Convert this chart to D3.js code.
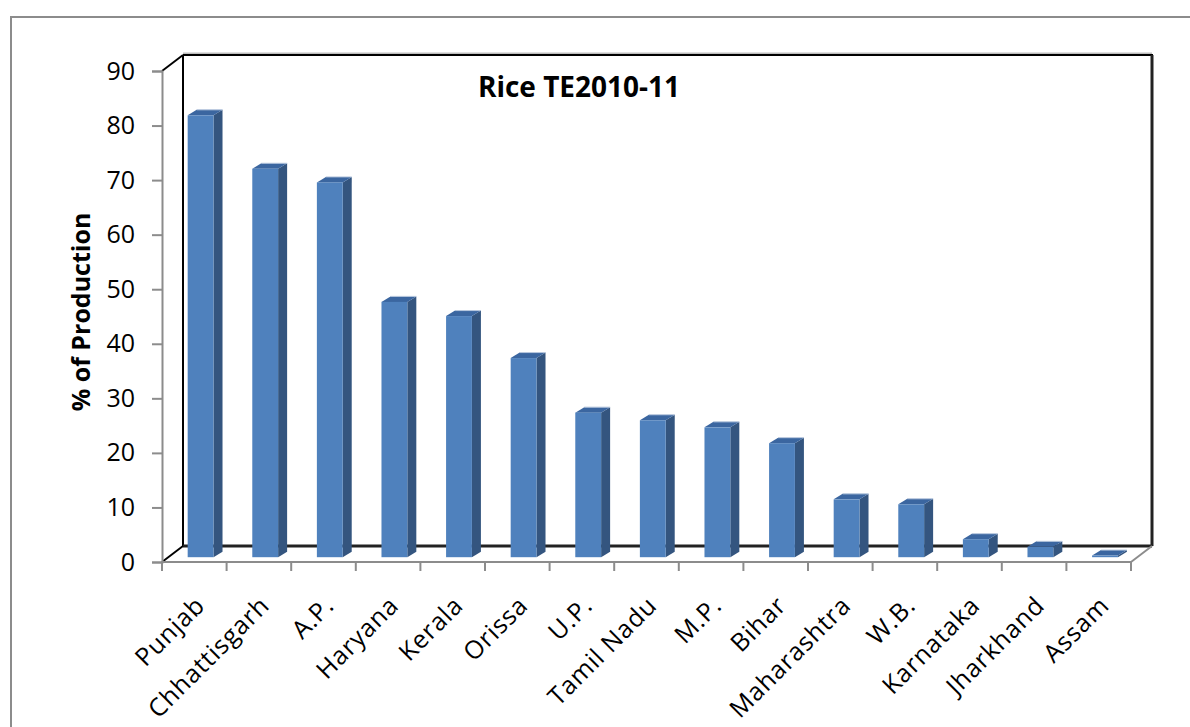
<!DOCTYPE html>
<html>
<head>
<meta charset="utf-8">
<script src="https://cdn.jsdelivr.net/npm/d3@7/dist/d3.min.js"></script>
<style>
  html, body { margin: 0; padding: 0; background: #fff; }
  svg { display: block; }
  text { font-family: "Open Sans", Lato, sans-serif; fill: #000; }
</style>
</head>
<body>
<svg id="chart" width="1190" height="727"></svg>
<script>
// Share of rice production, triennium ending 2010-11
const categories = ["Punjab", "Chhattisgarh", "A.P.", "Haryana", "Kerala", "Orissa", "U.P.",
  "Tamil Nadu", "M.P.", "Bihar", "Maharashtra", "W.B.", "Karnataka", "Jharkhand", "Assam"];
const values = [81.0, 71.2, 68.7, 46.8, 44.2, 36.5, 26.5, 25.1, 23.8, 20.9, 10.6, 9.7, 3.3, 1.9, 0.3];
const yTicks = [0, 10, 20, 30, 40, 50, 60, 70, 80, 90];
const chartTitle = "Rice TE2010-11";
const yTitle = "% of Production";

const svg = d3.select("#chart");

// outer chart-area frame
svg.append("path")
  .attr("d", "M11,727 L11,17 L1190,17")
  .attr("fill", "none").attr("stroke", "#8c8c8c").attr("stroke-width", 2);

// front plane of the 3-D plot
const x = d3.scaleBand().domain(categories).range([162, 1131]);
const y = d3.scaleLinear().domain([0, 90]).range([562, 71]);
const DX = 21, DY = -16;           // wall depth
const F = 0.3;                      // depth position of the bar row
const BDX = 9, BDY = -5.5;          // depth of each bar
const x0 = x.range()[0], x1 = x.range()[1];
const yb = y(0), yt = y(90);

// back wall and side wall edges
const walls = svg.append("g").attr("fill", "none");
walls.append("line").attr("x1", x0 + DX).attr("y1", yt + DY - 1.5).attr("x2", x1 + DX).attr("y2", yt + DY - 1.5)
  .attr("stroke", "#bdbdbd").attr("stroke-width", 2);
walls.append("line").attr("x1", x0 + DX).attr("y1", yt + DY).attr("x2", x1 + DX + 1).attr("y2", yt + DY)
  .attr("stroke", "#000").attr("stroke-width", 2);
walls.append("line").attr("x1", x1 + DX).attr("y1", yt + DY).attr("x2", x1 + DX).attr("y2", yb + DY)
  .attr("stroke", "#222").attr("stroke-width", 3);
walls.append("line").attr("x1", x0 + DX).attr("y1", yt + DY).attr("x2", x0 + DX).attr("y2", yb + DY)
  .attr("stroke", "#000").attr("stroke-width", 2);
walls.append("line").attr("x1", x0 + DX).attr("y1", yb + DY).attr("x2", x1 + DX).attr("y2", yb + DY)
  .attr("stroke", "#222").attr("stroke-width", 3);
walls.append("line").attr("x1", x0).attr("y1", yt).attr("x2", x0 + DX).attr("y2", yt + DY)
  .attr("stroke", "#000").attr("stroke-width", 2);
walls.append("line").attr("x1", x0).attr("y1", yb).attr("x2", x0 + DX).attr("y2", yb + DY)
  .attr("stroke", "#000").attr("stroke-width", 2);
walls.append("line").attr("x1", x1).attr("y1", yb).attr("x2", x1 + DX).attr("y2", yb + DY)
  .attr("stroke", "#8c8c8c").attr("stroke-width", 2);

// bars
const bw = x.bandwidth() * 0.4;
const ox = DX * F, oy = DY * F;
const bars = svg.append("g").selectAll("g").data(categories).join("g");
bars.each(function (c, i) {
  const g = d3.select(this);
  const left = x(c) + (x.bandwidth() - bw) / 2 + ox;
  const right = left + bw;
  const bottom = y(0) + oy;
  const top = y(values[i]) + oy;
  // side face
  g.append("path")
    .attr("d", `M${right},${top} L${right + BDX},${top + BDY} L${right + BDX},${bottom + BDY} L${right},${bottom} Z`)
    .attr("fill", "#34557f");
  // top face
  g.append("path")
    .attr("d", `M${left},${top} L${left + BDX},${top + BDY} L${right + BDX},${top + BDY} L${right},${top} Z`)
    .attr("fill", "#3b66a0");
  g.append("line")
    .attr("x1", left + BDX).attr("y1", top + BDY).attr("x2", right + BDX).attr("y2", top + BDY)
    .attr("stroke", "#b8c8de").attr("stroke-width", 1);
  // front face
  g.append("rect")
    .attr("x", left).attr("y", top).attr("width", bw).attr("height", bottom - top)
    .attr("fill", "#4f81bd");
});

// front floor edge with category boundary ticks
svg.append("line").attr("x1", x0).attr("y1", yb).attr("x2", x1).attr("y2", yb)
  .attr("stroke", "#8c8c8c").attr("stroke-width", 2);
const bounds = categories.map(c => x(c)).concat([x1]);
svg.append("g").selectAll("line").data(bounds).join("line")
  .attr("x1", d => d).attr("x2", d => d).attr("y1", yb).attr("y2", yb + 9)
  .attr("stroke", "#8c8c8c").attr("stroke-width", 2);

// value axis
const yAxis = svg.append("g").attr("transform", `translate(${x0},0)`)
  .call(d3.axisLeft(y).tickValues(yTicks).tickSize(10).tickPadding(17));
yAxis.select(".domain").attr("stroke", "#8c8c8c").attr("stroke-width", 2);
yAxis.selectAll(".tick line").attr("stroke", "#8c8c8c").attr("stroke-width", 2);
yAxis.selectAll(".tick text").attr("font-size", 25).attr("font-family", "'Open Sans', Lato, sans-serif").attr("fill", "#000");

// category labels
svg.append("g").selectAll("text").data(categories).join("text")
  .attr("transform", c => `translate(${x(c) + x.bandwidth() / 2 + 12},${yb + 45}) rotate(-45)`)
  .attr("text-anchor", "end")
  .attr("font-size", 25)
  .attr("letter-spacing", 0.8)
  .text(c => c);

// titles
svg.append("text")
  .attr("x", 579).attr("y", 97)
  .attr("text-anchor", "middle").attr("font-size", 28).attr("font-weight", "bold")
  .text(chartTitle);
svg.append("text")
  .attr("transform", "translate(90,312) rotate(-90)")
  .attr("text-anchor", "middle").attr("font-size", 25).attr("font-weight", "bold")
  .text(yTitle);
</script>
</body>
</html>
